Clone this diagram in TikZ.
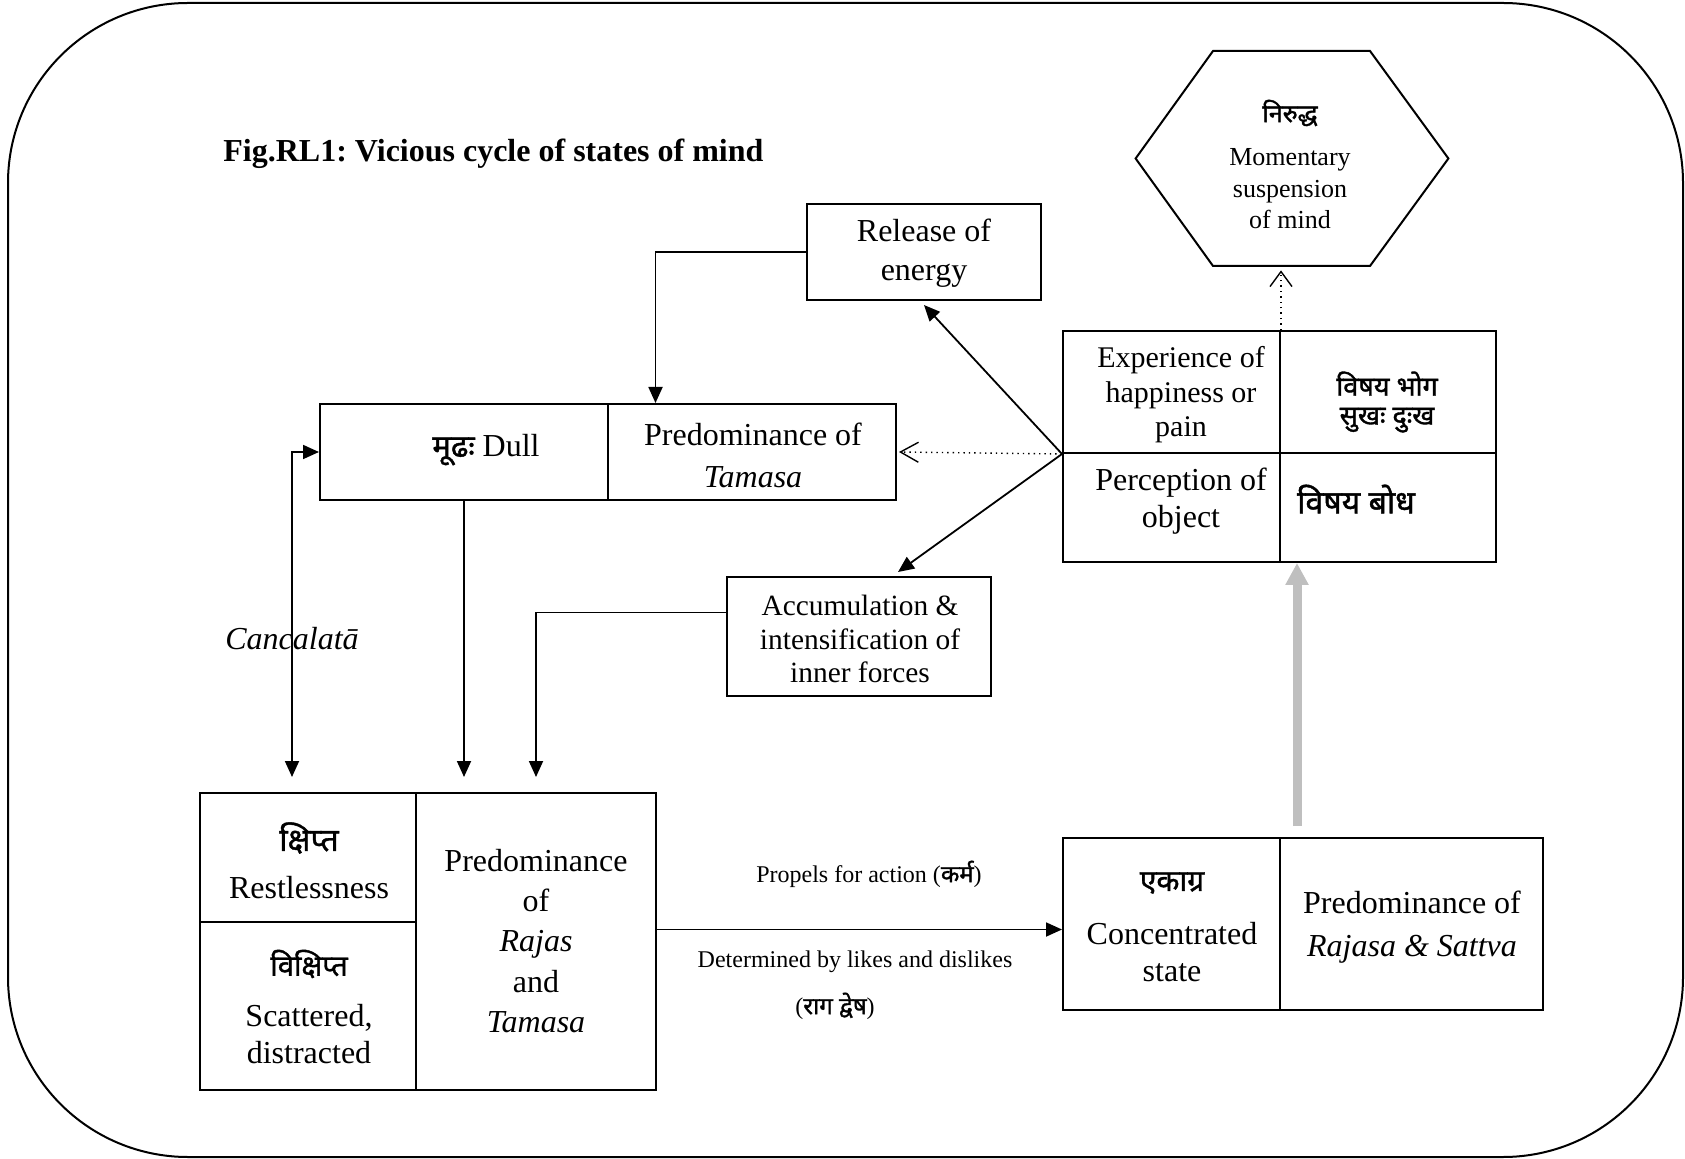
\documentclass[tikz,border=0pt]{standalone}
\usepackage{fontspec}
\setmainfont{Liberation Serif}
\newfontfamily\deva[Script=Devanagari,FakeBold=1.3]{Noto Sans}
\usetikzlibrary{arrows.meta,fit}
\frenchspacing

\begin{document}
\begin{tikzpicture}[x=0.5pt,y=-0.5pt,
  cell/.style={draw, line width=1pt, inner sep=0pt},
  txt/.style={align=center, inner sep=0pt, font=\fontsize{16}{21}\selectfont},
  small/.style={align=center, inner sep=0pt, font=\fontsize{12}{15}\selectfont},
  dv/.style={inner sep=0pt, font=\deva\fontsize{14.5}{17}\selectfont},
  arr/.style={line width=0.9pt, -{Triangle[length=8pt,width=7pt]}},
  dotarr/.style={line width=0.7pt, dotted, -{Straight Barb[length=9pt,width=10pt,line width=0.7pt]}},
  upbarb/.style={line width=0.7pt, dotted, -{Straight Barb[length=7.5pt,width=11pt,line width=0.7pt]}},
  grayarr/.style={line width=4.5pt, color=black!25, -{Triangle[length=11pt,width=11pt]}}
]
\useasboundingbox (0,0) rectangle (1685,1159);

% frame
\draw[line width=1pt, rounded corners=90pt] (8,3) rectangle (1683,1157);

% title
\node[anchor=base west, inner sep=0pt, font=\bfseries\fontsize{16}{19}\selectfont] (title) at (223,162)
  {Fig.RL1: Vicious cycle of states of mind};

% boxes
\node[cell, fit={(320,404)(608,500)}] (mudhaL) {};
\node[cell, fit={(608,404)(896,500)}] (mudhaR) {};
\node[cell, fit={(807,204)(1041,300)}] (release) {};
\node[cell, fit={(727,577)(991,696)}] (accum) {};
\node[cell, fit={(1063,331)(1280,453)}] (expL) {};
\node[cell, fit={(1280,331)(1496,453)}] (expR) {};
\node[cell, fit={(1063,453)(1280,562)}] (percL) {};
\node[cell, fit={(1280,453)(1496,562)}] (percR) {};
\node[cell, fit={(200,793)(416,922)}] (kshT) {};
\node[cell, fit={(200,922)(416,1090)}] (kshB) {};
\node[cell, fit={(416,793)(656,1090)}] (rajasR) {};
\node[cell, fit={(1063,838)(1280,1010)}] (ekL) {};
\node[cell, fit={(1280,838)(1543,1010)}] (ekR) {};

% hexagon
\node[fit={(1136,51)(1448,266)}, inner sep=0pt] (niruddha) {};
\draw[line width=1pt] (niruddha.west) -- (1213,51) -- (1370,51) -- (niruddha.east)
  -- (1370,266) -- (1213,266) -- cycle;

% texts
\node[dv, font=\deva\fontsize{12.5}{15}\selectfont] (niruddhaDv) at (1290,113) {निरुद्ध};
\node[txt, font=\fontsize{13}{15.75}\selectfont] (niruddhaTx) at (1290,189) {Momentary\\suspension\\of mind};

\node[txt, font=\fontsize{16}{19.5}\selectfont] (releaseTx) at (924,253) {Release of\\energy};

\node[txt] (mudhaTx) at (486,450) {{\deva\fontsize{15.5}{18}\selectfont मूढः} Dull};
\node[txt] (tamasaTx) at (753,455) {Predominance of\\\textit{Tamasa}};

\node[txt, font=\fontsize{14.7}{16.75}\selectfont] (accumTx) at (860,639) {Accumulation \&\\intensification of\\inner forces};

\node[txt, font=\fontsize{15}{17.25}\selectfont] (expTx) at (1181,395) {Experience of\\happiness or\\pain};
\node[dv, align=center, font=\deva\fontsize{13.5}{14.5}\selectfont] (bhogaDv) at (1387,402) {विषय भोग\\सुखः दुःख};
\node[txt, font=\fontsize{16}{18.25}\selectfont] (percTx) at (1181,501) {Perception of\\object};
\node[dv, font=\deva\fontsize{16}{19}\selectfont] (bodhaDv) at (1356,499) {विषय बोध};

\node[dv, font=\deva\fontsize{16}{19}\selectfont] (kshDv) at (309,838) {क्षिप्त};
\node[txt] (kshTx) at (309,888) {Restlessness};
\node[dv] (vikDv) at (309,964) {विक्षिप्त};
\node[txt, font=\fontsize{16}{18.25}\selectfont] (vikTx) at (309,1034) {Scattered,\\distracted};

\node[txt, font=\fontsize{16}{20.1}\selectfont] (rajasTx) at (536,941)
  {Predominance\\of\\\textit{Rajas}\\and\\\textit{Tamasa}};

\node[dv, font=\deva\fontsize{15}{18}\selectfont] (ekDv) at (1172,883) {एकाग्र};
\node[txt, font=\fontsize{16}{18.5}\selectfont] (ekTx) at (1172,952) {Concentrated\\state};
\node[txt, font=\fontsize{16}{21.5}\selectfont] (sattvaTx) at (1412,927)
  {Predominance of\\\textit{Rajasa \& Sattva}};

\node[small] (propelTx) at (869,874) {Propels for action ({\deva कर्म})};
\node[small] (likesTx) at (855,962) {Determined by likes and dislikes};
\node[small] (ragaTx) at (835,1006) {({\deva राग द्वेष})};

\node[txt] (cancTx) at (292,639) {\textit{Cancalatā}};

% connectors
\draw[arr] (release.west) -| ([xshift=-48.25pt]mudhaR.north);
\draw[arr] (expL.south west) -- ([yshift=-2pt]release.south);
\draw[arr] (expL.south west) -- ([xshift=19.5pt,yshift=2pt]accum.north);
\draw[dotarr] (expL.south west) -- ([xshift=1pt]mudhaR.east);
\draw[upbarb, shorten >=2pt] (expL.north east) -- (expL.north east |- niruddha.south);

\draw[arr, shorten >=7.5pt] (mudhaL.south) -- (mudhaL.south |- rajasR.north);
\draw[arr, shorten >=7.5pt] ([yshift=12pt]accum.west) -| (rajasR.north);
\draw[line width=0.9pt, {Triangle[length=8pt,width=7pt]}-{Triangle[length=8pt,width=7pt]}]
  ([xshift=-8pt,yshift=7.5pt]kshT.north) |- (mudhaL.west);

\draw[arr] ([yshift=6pt]rajasR.east) coordinate (hz) -- (hz -| ekL.west);
\draw[grayarr] ([xshift=8pt,yshift=5.5pt]ekL.north east) coordinate (g0) -- (g0 |- percL.south);
\end{tikzpicture}
\end{document}
